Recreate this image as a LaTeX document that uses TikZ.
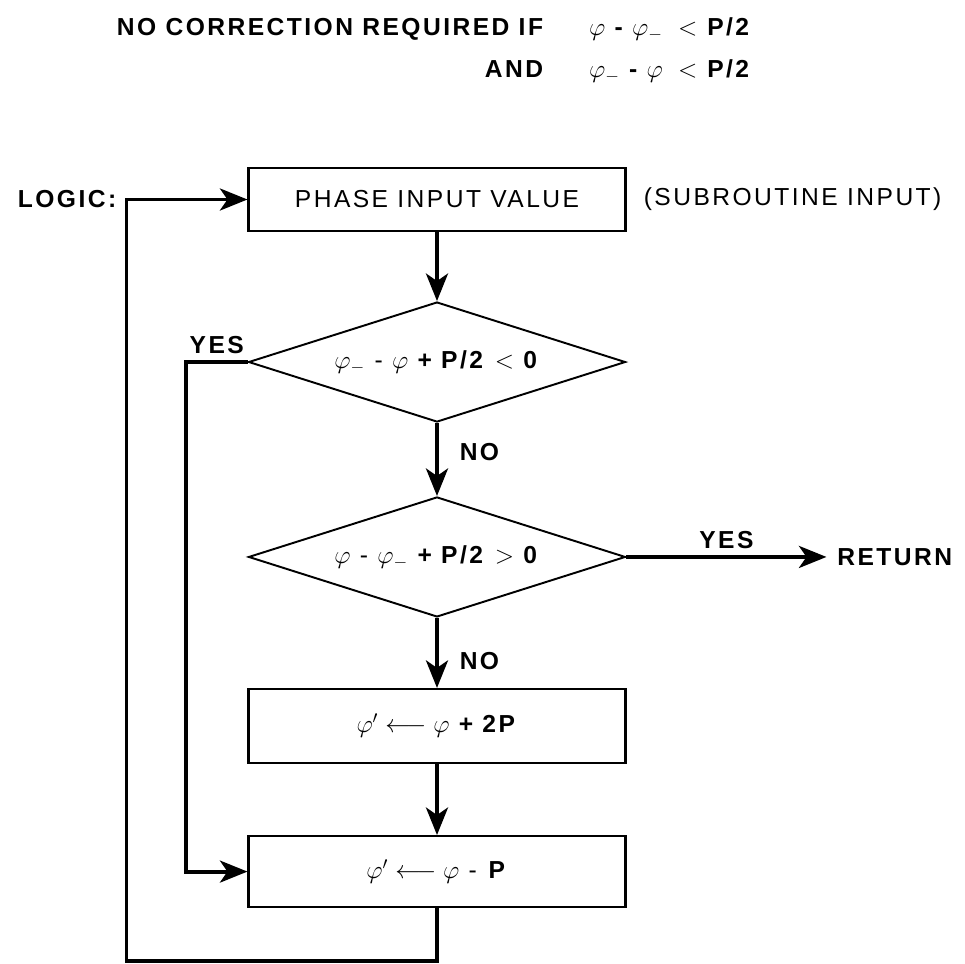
\documentclass[tikz,border=0pt]{standalone}
\usepackage{fontspec}
\setmainfont{Liberation Sans}[LetterSpace=10]
\usetikzlibrary{arrows.meta,shapes.geometric,positioning,calc}

\newcommand{\bigtext}{\fontsize{14}{17}\selectfont}

\begin{document}
\begin{tikzpicture}

	\tikzstyle{block}=[rectangle,draw,line width=1.2pt,
		minimum width=7.54cm,minimum height=1.42cm,
		align=center,inner sep=1mm,font=\bigtext]
	\tikzstyle{test}=[diamond,draw,line width=1.1pt,aspect=3.14,
		minimum width=7.54cm,minimum height=2.4cm,
		inner sep=0pt,font=\bigtext]
	\tikzstyle{lbl}=[font=\bigtext\bfseries]
	\tikzstyle{flow}=[-{Stealth[length=5.5mm,width=4.4mm,inset=1.5mm]},line width=2.2pt]

	\useasboundingbox (0,0) rectangle (19.3,-19.28);

	\node[lbl,anchor=north west,inner sep=0pt](cond) at (2.12,-0.28){%
		\begin{tabular}{r@{\hspace{0.92cm}}p{1.78cm}@{}l}
		NO CORRECTION REQUIRED IF & $\varphi$ - $\varphi_{-}$ & $<$\hspace{0.2cm}P/2\\[7pt]
		AND & $\varphi_{-}$ - $\varphi$ & $<$\hspace{0.2cm}P/2
		\end{tabular}};

	\node[block,minimum height=1.26cm](phase) at (8.74,-3.99){PHASE INPUT VALUE};
	\node[right=0.22cm of phase,font=\bigtext](subin){(SUBROUTINE INPUT)};
	\node[lbl,left=2.5cm of phase](logic){LOGIC:};
	\node[test,below=1.38cm of phase](check1){$\varphi_{-}$ - $\varphi$ \textbf{+ P/2} $<$ \textbf{0}};
	\node[test,below=1.46cm of check1](check2){$\varphi$ - $\varphi_{-}$ \textbf{+ P/2} $>$ \textbf{0}};
	\node[lbl,right=4cm of check2,inner sep=6pt](return){RETURN};
	\node[block,minimum height=1.48cm,below=1.40cm of check2](add){$\varphi'\longleftarrow\varphi$ \textbf{+ 2P}};
	\node[block,below=1.42cm of add](sub){$\varphi'\longleftarrow\varphi$ - \textbf{P}};
	\coordinate (yesbend) at ($(check1.west)+(-1.23cm,0)$);
	\coordinate (loopbot) at ($(sub.south)+(0,-1.06cm)$);
	\coordinate (looptop) at ($(phase.west)+(-2.42cm,0)$);

	\draw[flow] (phase) -- (check1);
	\draw[flow] (check1) -- node[lbl,right,pos=0.4,xshift=3mm]{NO} (check2);
	\draw[flow] (check2) -- node[lbl,above]{YES} (return);
	\draw[flow] (check2) -- node[lbl,right,pos=0.62,xshift=3mm]{NO} (add);
	\draw[flow] (add) -- (sub);
	\draw[flow] (check1.west) -- node[lbl,above]{YES} (yesbend) |- (sub.west);
	\draw[flow] (sub.south) -- (loopbot) -| (looptop) -- (phase.west);

\end{tikzpicture}
\end{document}
